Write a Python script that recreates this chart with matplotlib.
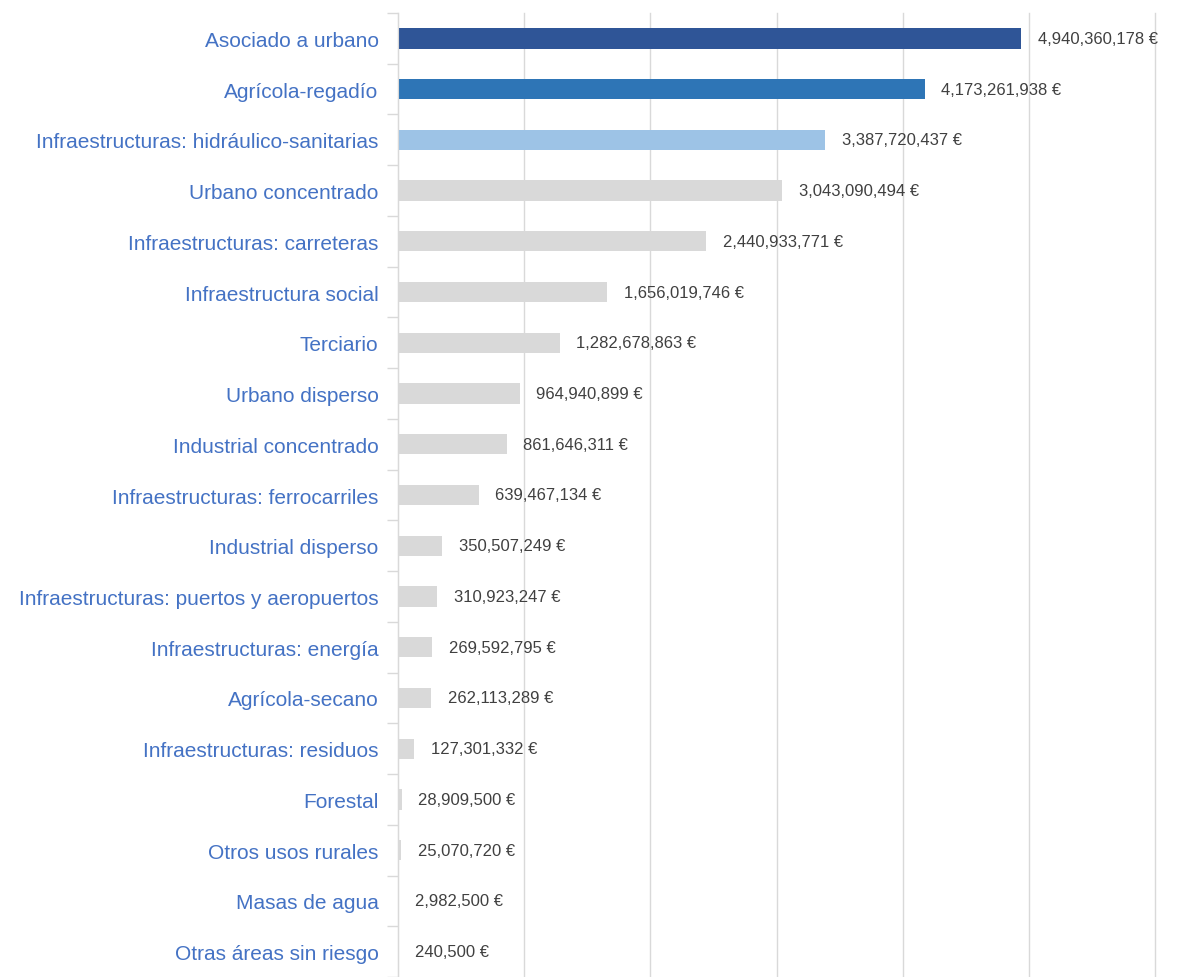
import numpy as np
import matplotlib
matplotlib.use("Agg")
import matplotlib.pyplot as plt
from matplotlib.ticker import FixedLocator

categories = [
    "Asociado a urbano",
    "Agrícola-regadío",
    "Infraestructuras: hidráulico-sanitarias",
    "Urbano concentrado",
    "Infraestructuras: carreteras",
    "Infraestructura social",
    "Terciario",
    "Urbano disperso",
    "Industrial concentrado",
    "Infraestructuras: ferrocarriles",
    "Industrial disperso",
    "Infraestructuras: puertos y aeropuertos",
    "Infraestructuras: energía",
    "Agrícola-secano",
    "Infraestructuras: residuos",
    "Forestal",
    "Otros usos rurales",
    "Masas de agua",
    "Otras áreas sin riesgo",
]
values = [
    4940360178, 4173261938, 3387720437, 3043090494, 2440933771,
    1656019746, 1282678863, 964940899, 861646311, 639467134,
    350507249, 310923247, 269592795, 262113289, 127301332,
    28909500, 25070720, 2982500, 240500,
]

GRID = "#D9D9D9"
bar_colors = ["#2F5597", "#2E75B6", "#9DC3E6"] + ["#D9D9D9"] * (len(values) - 3)

fig = plt.figure(figsize=(11.81, 9.78), dpi=100)
ax = fig.add_axes([398 / 1181, 0.0, (1155 - 398) / 1181, 1 - 14 / 978])

y = np.arange(len(categories))
ax.barh(y, values, height=0.4, color=bar_colors, zorder=2)

ax.set_xlim(0, 6e9)
ax.set_ylim(len(categories) - 0.5, -0.5)
ax.set_xticks(np.arange(0, 6.01e9, 1e9))
ax.tick_params(axis="x", length=0, labelbottom=False)
ax.grid(axis="x", color=GRID, linewidth=1, zorder=0)
for line in ax.get_xgridlines():
    line.set_clip_on(False)

ax.set_yticks(y)
ax.set_yticklabels(categories, fontsize=15, color="#4472C4",
                   family=["Liberation Sans", "DejaVu Sans"])
ax.tick_params(axis="y", length=0, pad=14)
# small ticks at category boundaries
ax.yaxis.set_minor_locator(FixedLocator(np.arange(-0.5, len(categories), 1)))
ax.tick_params(axis="y", which="minor", length=8, color=GRID, width=1)

for s in ["top", "right", "bottom"]:
    ax.spines[s].set_visible(False)
ax.spines["left"].set_color(GRID)

for yi, v in zip(y, values):
    ax.annotate(f"{v:,} €", (v, yi), xytext=(12, 0), textcoords="offset points",
                va="center", ha="left", fontsize=12, color="#404040",
                family=["Liberation Sans", "DejaVu Sans"])

fig.savefig("out.png", dpi=100)
